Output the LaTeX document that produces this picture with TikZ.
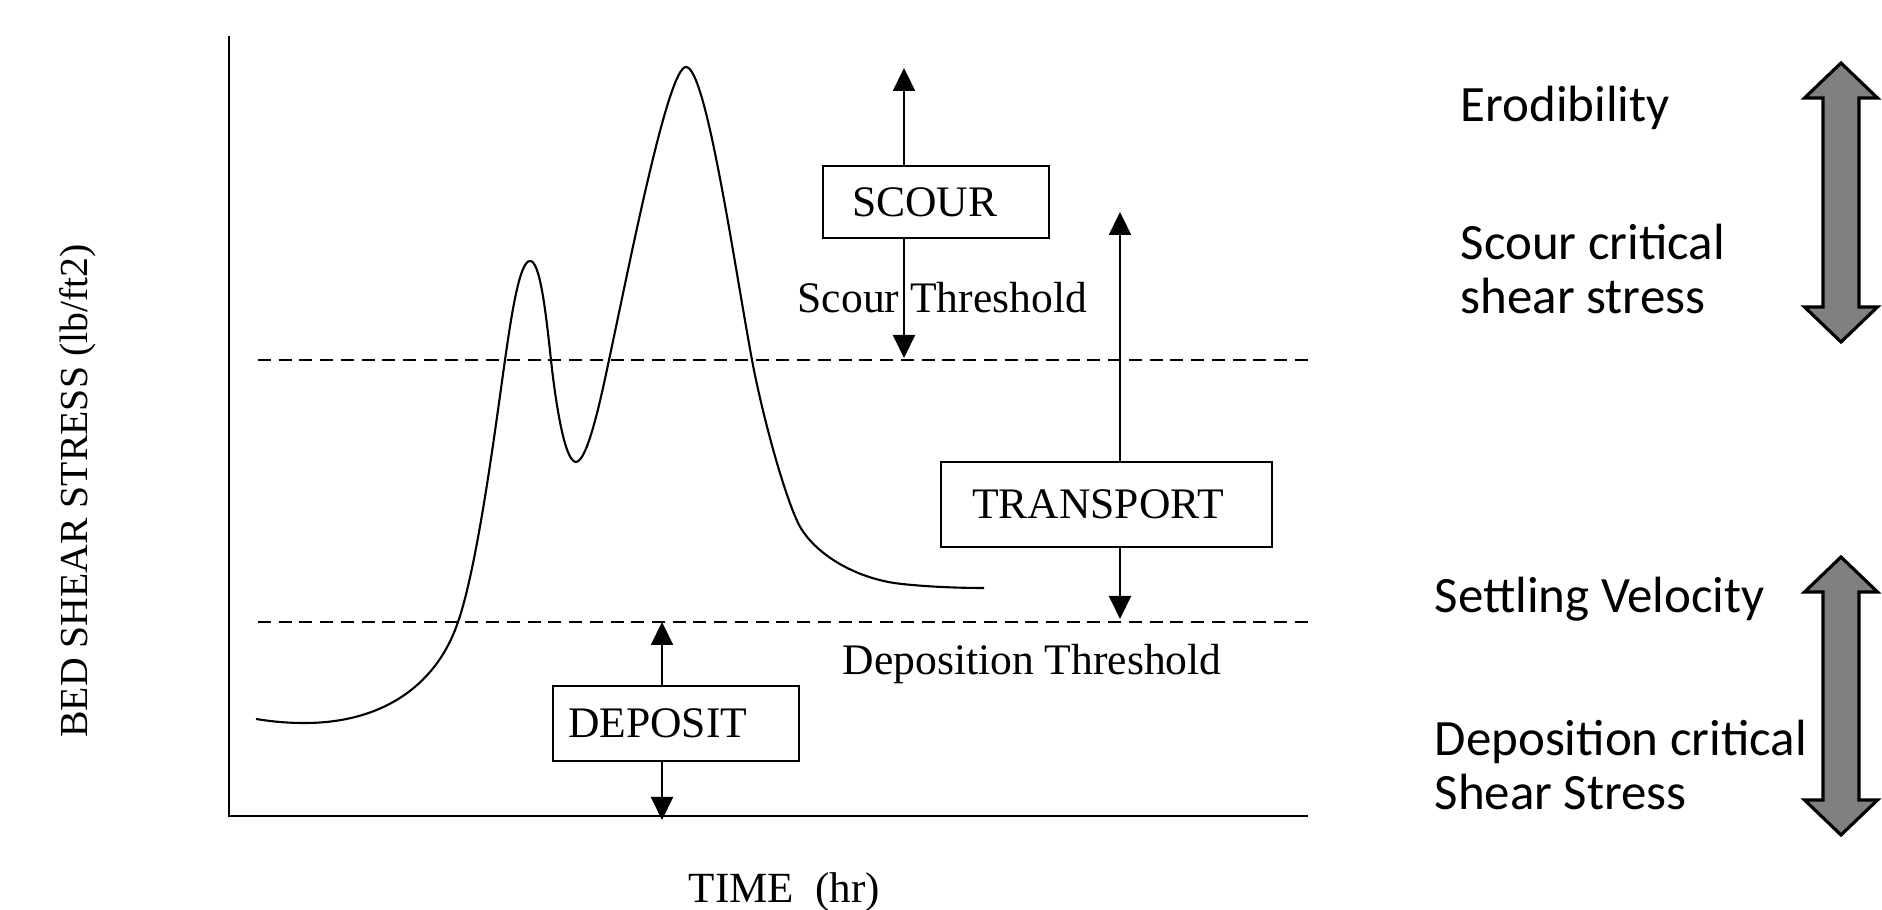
\documentclass[tikz,border=0pt]{standalone}
\usepackage{fontspec}
\setmainfont{Liberation Serif}
\newfontfamily\notefont{Carlito}
\usetikzlibrary{arrows.meta,positioning}

\begin{document}
\begin{tikzpicture}[
  zone/.style={draw,line width=0.6pt,align=left,inner ysep=0pt,font=\fontsize{12.4}{14}\selectfont},
  lbl/.style={inner sep=0pt,font=\fontsize{12.4}{14}\selectfont},
  note/.style={anchor=base west,align=left,inner sep=0pt,font=\notefont\fontsize{14.5}{15.4}\selectfont},
  thresh/.style={line width=0.55pt,dash pattern=on 3.7pt off 2.2pt},
  arr/.style={-{Triangle[length=2.3mm,width=2.2mm]},line width=0.6pt},
  band/.style={draw,line width=0.9pt,line join=miter,fill=black!50}
]
  \useasboundingbox (0,0) rectangle (18.82,9.10);

  % Axes and axis labels
  \draw[line width=0.7pt] (2.29,8.74) -- (2.29,0.94) -- (13.08,0.94);
  \node[lbl,rotate=90,anchor=base,font=\fontsize{11.3}{13}\selectfont] (ylab) at (0.87,4.19) {BED SHEAR STRESS (lb/ft2)};
  \node[lbl,anchor=base west,font=\fontsize{12.25}{14}\selectfont] (xlab) at (6.88,0.07) {TIME\ \ (hr)};

  % Threshold lines
  \draw[thresh] (2.58,5.50) -- (13.08,5.50);
  \draw[thresh] (2.58,2.88) -- (13.08,2.88);
  \node[lbl,anchor=base west] (scthr) at (7.97,5.97) {Scour Threshold};
  \node[lbl,anchor=base west] (dpthr) at (8.42,2.35) {Deposition Threshold};

  % Shear stress over time: two peaks, then a tail above deposition
  \draw[line width=0.6pt] (2.56,1.91)
    .. controls (2.75,1.88) and (2.88,1.87) .. (3.05,1.87)
    .. controls (3.77,1.87) and (4.35,2.20) .. (4.58,2.88)
    .. controls (4.78,3.45) and (4.965,4.906) .. (5.05,5.50)
    .. controls (5.12,5.995) and (5.20,6.49) .. (5.30,6.49)
    .. controls (5.40,6.49) and (5.456,5.997) .. (5.51,5.50)
    .. controls (5.547,5.152) and (5.64,4.48) .. (5.76,4.48)
    .. controls (5.88,4.48) and (6.028,5.207) .. (6.09,5.50)
    .. controls (6.30,6.48) and (6.68,8.43) .. (6.86,8.43)
    .. controls (7.06,8.43) and (7.338,6.483) .. (7.52,5.50)
    .. controls (7.63,4.91) and (7.88,4.01) .. (8.02,3.80)
    .. controls (8.21,3.51) and (8.62,3.30) .. (9.02,3.26)
    .. controls (9.30,3.23) and (9.60,3.22) .. (9.84,3.22);

  % Zones
  \node[zone,minimum height=0.72cm,inner xsep=2.9mm,text width=16.8mm] (scour) at (9.36,7.08) {SCOUR};
  \node[zone,minimum height=0.85cm,inner xsep=3.1mm,text width=26.9mm] (transport) at (11.065,4.055) {TRANSPORT};
  \node[zone,minimum height=0.75cm,inner xsep=1.5mm,text width=21.6mm] (deposit) at (6.76,1.865) {DEPOSIT};

  % Arrow ends
  \coordinate (sctop) at (9.04,8.42);
  \coordinate (scbot) at (9.04,5.52);
  \coordinate (trtop) at (11.20,6.98);
  \coordinate (trbot) at (11.20,2.91);
  \coordinate (dptop) at (6.62,2.88);
  \coordinate (dpbot) at (6.62,0.90);
  \draw[arr] (scour.north -| sctop) -- (sctop);
  \draw[arr] (scour.south -| scbot) -- (scbot);
  \draw[arr] (transport.north -| trtop) -- (trtop);
  \draw[arr] (transport.south -| trbot) -- (trbot);
  \draw[arr] (deposit.north -| dptop) -- (dptop);
  \draw[arr] (deposit.south -| dpbot) -- (dpbot);

  % Side notes (multi-line ones sit on their last baseline)
  \node[note] (erod) at (14.60,7.88) {Erodibility};
  \node[note] (sccrit) at (14.60,5.96) {Scour critical\\shear stress};
  \node[note] (settle) at (14.34,2.97) {Settling Velocity};
  \node[note] (dpcrit) at (14.34,1.00) {Deposition critical\\Shear Stress};

  % Double block arrows
  \foreach \yt/\yb in {8.47/5.68, 3.53/0.75}
    \draw[band] (18.41,\yt) -- (18.775,\yt-0.35) -- (18.59,\yt-0.35) -- (18.59,\yb+0.35)
      -- (18.775,\yb+0.35) -- (18.41,\yb) -- (18.045,\yb+0.35) -- (18.23,\yb+0.35)
      -- (18.23,\yt-0.35) -- (18.045,\yt-0.35) -- cycle;
\end{tikzpicture}
\end{document}
